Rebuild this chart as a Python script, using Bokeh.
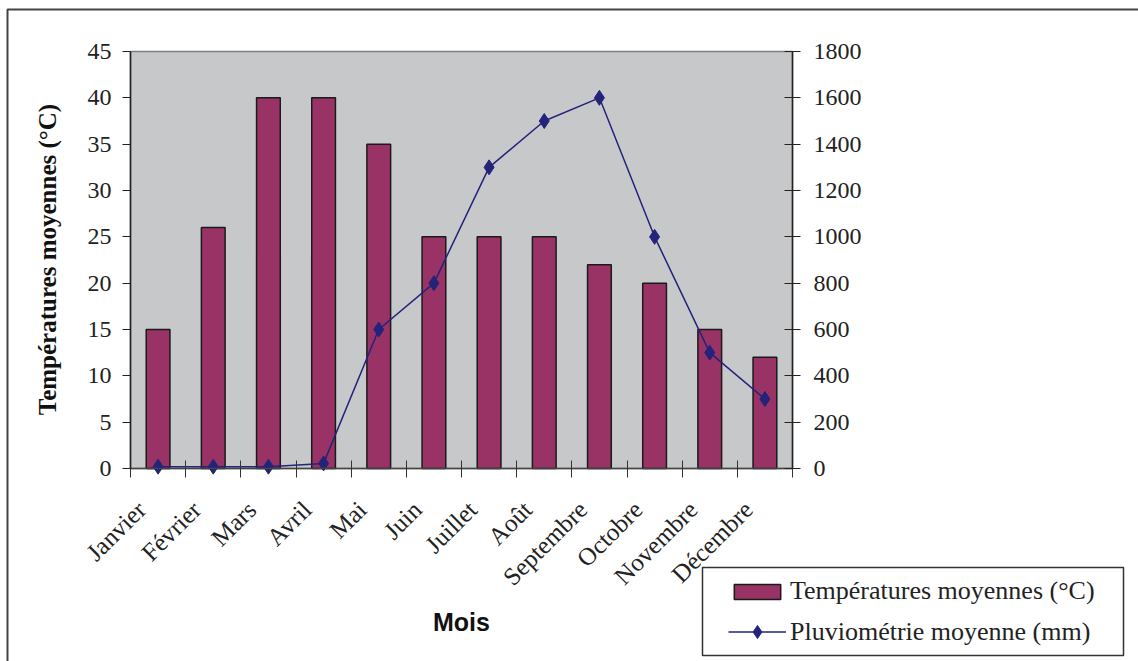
from bokeh.plotting import figure
from bokeh.models import (Range1d, LinearAxis, FixedTicker, Legend, LegendItem, Label,
                          ColumnDataSource, BoxAnnotation)
from bokeh.embed import file_html
from bokeh.resources import INLINE
import math

months = ["Janvier", "Février", "Mars", "Avril", "Mai", "Juin", "Juillet",
          "Août", "Septembre", "Octobre", "Novembre", "Décembre"]
temperatures = [15, 26, 40, 40, 35, 25, 25, 25, 22, 20, 15, 12]
rainfall = [8, 8, 8, 22, 600, 800, 1300, 1500, 1600, 1000, 500, 300]
temp_ticks = [0, 5, 10, 15, 20, 25, 30, 35, 40, 45]
rain_ticks = [0, 200, 400, 600, 800, 1000, 1200, 1400, 1600, 1800]
temp_label = "Températures moyennes (°C)"
rain_label = "Pluviométrie moyenne (mm)"
x_title = "Mois"
y_title = "Températures moyennes (°C)"

# ---- layout (pixels) ----
W, H = 1138, 661
PL, PR, PT, PB = 130, 792, 51, 468          # plot-area edges in canvas pixels
n = len(months)
T_MAX, R_MAX = temp_ticks[-1], rain_ticks[-1]

def x_at(px):
    return (px - PL) / (PR - PL) * n

def t_at(py):
    return (PB - py) / (PB - PT) * T_MAX

def r_at(py):
    return (PB - py) / (PB - PT) * R_MAX

centers = [i + 0.5 for i in range(n)]
bounds = [float(i) for i in range(n + 1)]
LABEL_SHIFT = 0.3                             # rotated labels end a bit left of centre
label_pos = [c - LABEL_SHIFT for c in centers]

src = ColumnDataSource(dict(x=centers, t=temperatures, r=rainfall))

SERIF = "Liberation Serif"
TXT = "#222222"

p = figure(width=W, height=H, frame_width=W, frame_height=H,
           output_backend="svg", toolbar_location=None,
           x_range=Range1d(x_at(0), x_at(W)), y_range=Range1d(t_at(H), t_at(0)),
           min_border=0, background_fill_color="white", border_fill_color="white")
p.outline_line_color = None
p.xgrid.visible = False
p.ygrid.visible = False
p.extra_y_ranges = {"rain": Range1d(r_at(H), r_at(0))}

# chart border (top/left visible)
p.add_layout(BoxAnnotation(left=x_at(7), right=x_at(W + 50), top=t_at(9), bottom=t_at(H + 50),
                           fill_color=None, line_color="#444444", line_alpha=1.0, line_width=2,
                           level="underlay"))
# grey plot area
p.add_layout(BoxAnnotation(left=0, right=n, bottom=0, top=T_MAX, fill_color="#c7c8ca",
                           fill_alpha=1.0, line_color="#7f7f7f", line_alpha=1.0, line_width=1.5,
                           level="underlay"))

bars = p.vbar(x="x", top="t", width=0.43, source=src, fill_color="#993366",
              line_color="#1a1a1a", line_width=1.5)
line = p.line(x="x", y="r", source=src, y_range_name="rain", line_color="#23237a", line_width=1.5)
pts = p.scatter(x="x", y="r", source=src, y_range_name="rain", marker="diamond", size=15,
                fill_color="#23237a", line_color="#23237a")

# x axis
xa = p.xaxis[0]
xa.fixed_location = 0
xa.bounds = (0, n)
xa.ticker = FixedTicker(ticks=label_pos, minor_ticks=bounds)
xa.major_label_overrides = {c: m for c, m in zip(label_pos, months)}
xa.major_tick_in = 0
xa.major_tick_out = 0
xa.minor_tick_in = 8
xa.minor_tick_out = 9
xa.minor_tick_line_color = "#333333"
xa.axis_line_color = "#444444"
xa.axis_line_width = 1.5
xa.major_label_orientation = math.pi / 4
xa.major_label_text_font = SERIF
xa.major_label_text_font_size = "25px"
xa.major_label_text_color = TXT
xa.major_label_standoff = 28

# left axis
ya = p.yaxis[0]
ya.fixed_location = 0
ya.bounds = (0, T_MAX)
ya.ticker = FixedTicker(ticks=temp_ticks, minor_ticks=[])
ya.major_tick_in = 0
ya.major_tick_out = 8
ya.axis_line_color = "#222222"
ya.axis_line_width = 1.5
ya.major_tick_line_color = "#222222"
ya.major_label_text_font = SERIF
ya.major_label_text_font_size = "24px"
ya.major_label_text_color = TXT
ya.major_label_text_align = "right"
ya.major_label_standoff = 11

# right axis
ra = LinearAxis(y_range_name="rain", fixed_location=n, bounds=(0, R_MAX),
                ticker=FixedTicker(ticks=rain_ticks, minor_ticks=[]))
ra.major_tick_in = 8
ra.major_tick_out = 8
ra.axis_line_color = "#222222"
ra.axis_line_width = 1.5
ra.major_tick_line_color = "#222222"
ra.major_label_text_font = SERIF
ra.major_label_text_font_size = "24px"
ra.major_label_text_color = TXT
ra.major_label_text_align = "left"
ra.major_label_standoff = 13
p.add_layout(ra, "right")

# axis titles
p.add_layout(Label(x=n / 2, y=t_at(621), text=x_title,
                   text_font="Liberation Sans", text_font_style="bold", text_font_size="25px",
                   text_align="center", text_baseline="middle", text_color="#111111"))
p.add_layout(Label(x=x_at(47), y=t_at(259), text=y_title, angle=math.pi / 2,
                   text_font=SERIF, text_font_style="bold", text_font_size="25px",
                   text_align="center", text_baseline="middle", text_color="#111111"))

# legend box
p.add_layout(BoxAnnotation(left=x_at(702), right=x_at(1123), top=t_at(567), bottom=t_at(655),
                           fill_color="white", fill_alpha=1.0, line_color="#333333",
                           line_alpha=1.0, line_width=1.5, level="annotation"))

common = dict(orientation="vertical", border_line_color=None, background_fill_alpha=0.0,
              label_text_font=SERIF, label_text_font_size="26px", label_text_color=TXT,
              glyph_width=58, padding=0, margin=0, label_standoff=4, spacing=0)
leg1 = Legend(items=[LegendItem(label=temp_label, renderers=[bars])],
              location=(728, H - 607), glyph_height=19, label_height=32, **common)
leg2 = Legend(items=[LegendItem(label=rain_label, renderers=[line, pts])],
              location=(728, H - 648), glyph_height=33, label_height=33, **common)
p.add_layout(leg1)
p.add_layout(leg2)

open("out.html", "w").write(file_html(p, INLINE))
